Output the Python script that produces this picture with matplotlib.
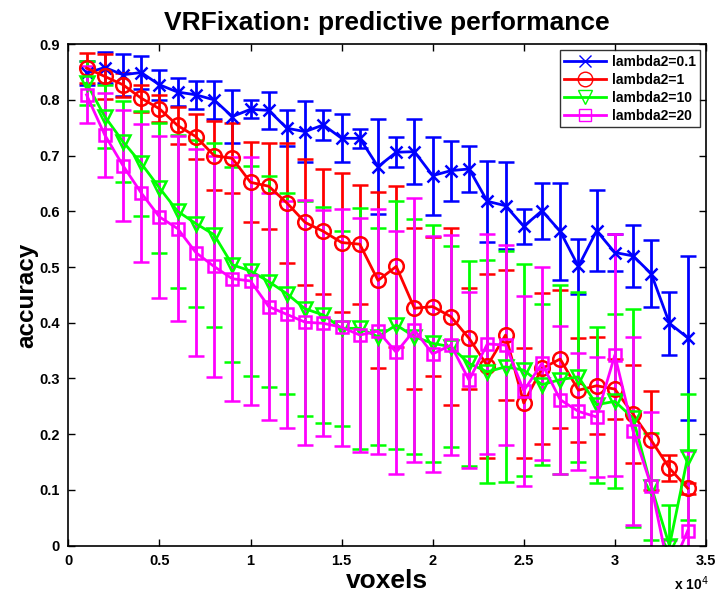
import numpy as np
import matplotlib
matplotlib.use("Agg")
import matplotlib.pyplot as plt
from matplotlib.lines import Line2D

plt.rcParams['font.family'] = ['Liberation Sans', 'DejaVu Sans']

# number of voxels kept (thousands)
voxels = np.arange(1, 35) * 1000

acc_l01 = [0.848, 0.858, 0.845, 0.849, 0.827, 0.814, 0.809, 0.800, 0.770, 0.783,
           0.781, 0.749, 0.743, 0.755, 0.731, 0.731, 0.680, 0.706, 0.707, 0.664,
           0.673, 0.676, 0.618, 0.610, 0.573, 0.601, 0.564, 0.501, 0.565, 0.526,
           0.520, 0.488, 0.399, 0.373]
err_l01 = [0.022, 0.028, 0.038, 0.030, 0.027, 0.025, 0.025, 0.034, 0.047, 0.016,
           0.033, 0.032, 0.055, 0.027, 0.043, 0.017, 0.085, 0.027, 0.058, 0.070,
           0.054, 0.041, 0.073, 0.078, 0.032, 0.050, 0.087, 0.050, 0.073, 0.033,
           0.055, 0.060, 0.056, 0.147]

acc_l1 = [0.857, 0.842, 0.827, 0.803, 0.784, 0.754, 0.734, 0.700, 0.695, 0.652,
          0.645, 0.615, 0.580, 0.564, 0.544, 0.541, 0.476, 0.501, 0.426, 0.429,
          0.411, 0.372, 0.323, 0.378, 0.256, 0.318, 0.335, 0.279, 0.287, 0.281,
          0.236, 0.189, 0.139, 0.103]
err_l1 = [0.027, 0.040, 0.022, 0.024, 0.024, 0.034, 0.040, 0.062, 0.063, 0.072,
          0.077, 0.108, 0.113, 0.112, 0.124, 0.107, 0.158, 0.145, 0.144, 0.125,
          0.159, 0.090, 0.165, 0.117, 0.099, 0.136, 0.123, 0.093, 0.087, 0.054,
          0.088, 0.089, 0.023, 0.010]

acc_l10 = [0.830, 0.770, 0.725, 0.686, 0.642, 0.600, 0.578, 0.558, 0.504, 0.493,
           0.474, 0.452, 0.425, 0.414, 0.390, 0.390, 0.375, 0.396, 0.375, 0.363,
           0.357, 0.327, 0.312, 0.321, 0.315, 0.289, 0.298, 0.303, 0.253, 0.259,
           0.229, 0.106, 0.000, 0.159]
err_l10 = [0.040, 0.057, 0.073, 0.094, 0.116, 0.137, 0.150, 0.165, 0.175, 0.188,
           0.190, 0.180, 0.193, 0.193, 0.175, 0.216, 0.195, 0.222, 0.211, 0.213,
           0.180, 0.184, 0.200, 0.207, 0.190, 0.145, 0.170, 0.153, 0.140, 0.156,
           0.195, 0.096, 0.073, 0.113]

acc_l20 = [0.809, 0.737, 0.682, 0.633, 0.590, 0.569, 0.526, 0.501, 0.479, 0.475,
           0.429, 0.415, 0.401, 0.399, 0.392, 0.378, 0.385, 0.347, 0.387, 0.344,
           0.360, 0.297, 0.362, 0.360, 0.278, 0.327, 0.262, 0.241, 0.231, 0.342,
           0.206, 0.107, -0.050, 0.027]
err_l20 = [0.051, 0.075, 0.100, 0.124, 0.146, 0.166, 0.185, 0.198, 0.219, 0.222,
           0.203, 0.203, 0.220, 0.203, 0.213, 0.210, 0.220, 0.218, 0.236, 0.211,
           0.198, 0.158, 0.197, 0.180, 0.170, 0.173, 0.133, 0.105, 0.108, 0.217,
           0.168, 0.132, 0.060, 0.143]

labels = ['lambda2=0.1', 'lambda2=1', 'lambda2=10', 'lambda2=20']
colors = ['#0000ff', '#ff0000', '#00ff00', '#ff00ff']
markers = ['x', 'o', 'v', 's']
msizes = [9, 10.5, 10.5, 8]
series = [(acc_l01, err_l01), (acc_l1, err_l1), (acc_l10, err_l10), (acc_l20, err_l20)]

fig = plt.figure(figsize=(7.27, 5.96), dpi=100)
ax = fig.add_axes([0.094, 0.0844, 0.877, 0.8416])

handles = []
for (acc, err), lab, c, m, ms in zip(series, labels, colors, markers, msizes):
    ax.errorbar(voxels, acc, yerr=err, color=c, marker=m, markersize=ms,
                markerfacecolor='none', markeredgecolor=c, markeredgewidth=1.8,
                linewidth=2, elinewidth=2, capsize=5.5, capthick=2)
    handles.append(Line2D([], [], color=c, linewidth=2, marker=m, markersize=ms,
                          markerfacecolor='none', markeredgecolor=c,
                          markeredgewidth=1.0))

ax.set_xlim(0, 35000)
ax.set_ylim(0, 0.9)
xt = np.arange(0, 3.51, 0.5)
ax.set_xticks(xt * 1e4)
ax.set_xticklabels(['0', '0.5', '1', '1.5', '2', '2.5', '3', '3.5'])
yt = np.arange(0, 0.91, 0.1)
ax.set_yticks(yt)
ax.set_yticklabels(['0', '0.1', '0.2', '0.3', '0.4', '0.5', '0.6', '0.7', '0.8', '0.9'])
ax.tick_params(direction='in', length=5, width=1, labelsize=10.5, top=True, right=True,
               pad=6)
for lbl in ax.get_xticklabels() + ax.get_yticklabels():
    lbl.set_fontweight('bold')
for s in ax.spines.values():
    s.set_linewidth(1.2)

ax.text(1.004, -0.076, r'x 10$^{4}$', transform=ax.transAxes, ha='right', va='center',
        fontsize=10, fontweight='bold')

ax.set_title('VRFixation: predictive performance', fontsize=19, fontweight='bold', pad=10)
ax.set_xlabel('voxels', fontsize=19, fontweight='bold', labelpad=1)
ax.set_ylabel('accuracy', fontsize=17.5, fontweight='bold', labelpad=1)

leg = ax.legend(handles, labels, loc='upper right', fontsize=10, frameon=True,
                fancybox=False, edgecolor='black', borderaxespad=0.45,
                handlelength=3.0, borderpad=0.3, labelspacing=0.3, handletextpad=0.4)
leg.get_frame().set_linewidth(1.0)
for t in leg.get_texts():
    t.set_fontweight('bold')

fig.savefig('out.png', dpi=100)
